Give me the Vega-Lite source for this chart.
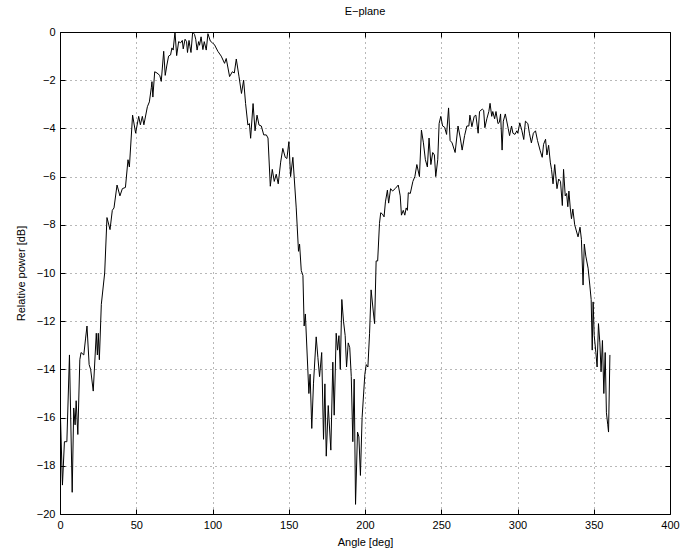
{
  "$schema": "https://vega.github.io/schema/vega-lite/v6.json",
  "width": 610,
  "height": 482,
  "autosize": {"type": "none"},
  "padding": {"left": 60, "top": 32, "right": 14, "bottom": 40},
  "background": "white",
  "title": {"text": "E−plane", "fontSize": 11, "font": "Liberation Sans", "fontWeight": "normal", "color": "#000", "offset": 9, "anchor": "middle"},
  "config": {
    "view": {"stroke": "#000", "strokeWidth": 1},
    "axis": {"labelFont": "Liberation Sans", "titleFont": "Liberation Sans", "labelFontSize": 11, "titleFontSize": 11, "titleFontWeight": "normal", "labelColor": "#000", "titleColor": "#000", "domainColor": "#000", "tickColor": "#000", "gridColor": "#000", "gridDash": [1, 4], "gridOpacity": 0.8, "gridWidth": 0.7}
  },
  "data": {"values": [
    {"angle": 0, "db": -15.3}, {"angle": 1.6, "db": -18.8}, {"angle": 2.9, "db": -17.0}, {"angle": 4.5, "db": -17.0},
    {"angle": 6.2, "db": -13.4}, {"angle": 8.0, "db": -19.1}, {"angle": 9.0, "db": -15.6}, {"angle": 9.9, "db": -16.3},
    {"angle": 10.6, "db": -15.3}, {"angle": 11.7, "db": -16.7}, {"angle": 13.0, "db": -13.6}, {"angle": 13.8, "db": -13.3},
    {"angle": 15.6, "db": -13.4}, {"angle": 16.8, "db": -12.7}, {"angle": 17.7, "db": -12.2}, {"angle": 19.1, "db": -13.8},
    {"angle": 20.1, "db": -14.0}, {"angle": 21.8, "db": -14.9}, {"angle": 23.8, "db": -12.5}, {"angle": 24.5, "db": -13.4},
    {"angle": 25.1, "db": -12.5}, {"angle": 25.8, "db": -13.6}, {"angle": 27.1, "db": -11.3}, {"angle": 29.3, "db": -10.0},
    {"angle": 30.8, "db": -7.7}, {"angle": 32.8, "db": -8.2}, {"angle": 34.3, "db": -7.4}, {"angle": 35.4, "db": -7.3},
    {"angle": 37.4, "db": -6.35}, {"angle": 39.3, "db": -6.8}, {"angle": 40.9, "db": -6.5}, {"angle": 42.9, "db": -6.45},
    {"angle": 44.6, "db": -5.3}, {"angle": 45.5, "db": -5.6}, {"angle": 47.6, "db": -3.45}, {"angle": 49.6, "db": -4.2},
    {"angle": 51.6, "db": -3.5}, {"angle": 52.7, "db": -3.85}, {"angle": 54.0, "db": -3.5}, {"angle": 55.0, "db": -3.85},
    {"angle": 57.3, "db": -3.1}, {"angle": 58.6, "db": -2.9}, {"angle": 59.9, "db": -2.3}, {"angle": 60.3, "db": -2.06},
    {"angle": 60.9, "db": -2.7}, {"angle": 62.1, "db": -1.65}, {"angle": 63.6, "db": -1.7}, {"angle": 65.4, "db": -1.8},
    {"angle": 66.4, "db": -2.05}, {"angle": 68.0, "db": -0.8}, {"angle": 69.0, "db": -1.8}, {"angle": 70.1, "db": -1.37},
    {"angle": 71.2, "db": -1.0}, {"angle": 72.5, "db": -0.95}, {"angle": 73.4, "db": -0.66}, {"angle": 74.2, "db": -0.75},
    {"angle": 75.4, "db": 0}, {"angle": 76.5, "db": -0.98}, {"angle": 77.8, "db": -0.4}, {"angle": 79.1, "db": -0.45},
    {"angle": 80.2, "db": -0.35}, {"angle": 80.8, "db": -0.7}, {"angle": 82.0, "db": -0.3}, {"angle": 83.0, "db": -0.4},
    {"angle": 83.6, "db": -0.85}, {"angle": 84.6, "db": -0.35}, {"angle": 85.2, "db": -0.6}, {"angle": 85.9, "db": -0.85},
    {"angle": 87.0, "db": 0}, {"angle": 88.2, "db": -0.1}, {"angle": 89.0, "db": -0.3}, {"angle": 89.9, "db": -0.75},
    {"angle": 90.9, "db": -0.4}, {"angle": 91.5, "db": -0.55}, {"angle": 92.5, "db": -0.2}, {"angle": 93.7, "db": -0.73},
    {"angle": 94.6, "db": -0.4}, {"angle": 95.9, "db": -0.75}, {"angle": 97.0, "db": -0.07}, {"angle": 98.6, "db": -0.38},
    {"angle": 100.0, "db": -0.45}, {"angle": 101.4, "db": -0.54}, {"angle": 103.5, "db": -0.8}, {"angle": 105.7, "db": -1.0},
    {"angle": 107.9, "db": -1.3}, {"angle": 109.0, "db": -1.1}, {"angle": 111.2, "db": -1.85}, {"angle": 113.0, "db": -1.65},
    {"angle": 114.3, "db": -1.7}, {"angle": 115.6, "db": -1.12}, {"angle": 117.4, "db": -1.86}, {"angle": 119.0, "db": -2.55},
    {"angle": 120.4, "db": -2.0}, {"angle": 121.7, "db": -2.97}, {"angle": 123.2, "db": -3.86}, {"angle": 124.2, "db": -3.8},
    {"angle": 125.0, "db": -4.41}, {"angle": 126.6, "db": -2.97}, {"angle": 127.9, "db": -4.1}, {"angle": 129.2, "db": -3.45},
    {"angle": 130.5, "db": -3.86}, {"angle": 132.0, "db": -3.9}, {"angle": 133.6, "db": -4.27}, {"angle": 135.3, "db": -4.27},
    {"angle": 136.4, "db": -4.4}, {"angle": 137.9, "db": -6.4}, {"angle": 139.2, "db": -5.7}, {"angle": 140.5, "db": -6.2},
    {"angle": 141.8, "db": -5.9}, {"angle": 143.1, "db": -6.3}, {"angle": 144.7, "db": -5.4}, {"angle": 146.1, "db": -4.83},
    {"angle": 147.7, "db": -5.2}, {"angle": 148.8, "db": -5.25}, {"angle": 150.1, "db": -4.55}, {"angle": 151.2, "db": -6.0},
    {"angle": 152.7, "db": -5.2}, {"angle": 154.9, "db": -7.3}, {"angle": 156.4, "db": -9.1}, {"angle": 157.1, "db": -8.8},
    {"angle": 158.2, "db": -9.9}, {"angle": 159.3, "db": -10.1}, {"angle": 160.1, "db": -12.2}, {"angle": 160.9, "db": -11.7},
    {"angle": 163.2, "db": -15.0}, {"angle": 164.0, "db": -14.2}, {"angle": 165.1, "db": -16.45}, {"angle": 166.2, "db": -14.6},
    {"angle": 168.0, "db": -12.65}, {"angle": 169.1, "db": -13.5}, {"angle": 170.2, "db": -14.3}, {"angle": 171.6, "db": -13.3},
    {"angle": 172.8, "db": -16.9}, {"angle": 173.7, "db": -14.6}, {"angle": 174.6, "db": -17.6}, {"angle": 175.9, "db": -15.5},
    {"angle": 177.6, "db": -17.35}, {"angle": 178.9, "db": -13.7}, {"angle": 179.8, "db": -15.9}, {"angle": 181.1, "db": -12.5},
    {"angle": 182.0, "db": -13.2}, {"angle": 182.9, "db": -12.6}, {"angle": 183.8, "db": -14.0}, {"angle": 184.8, "db": -11.1},
    {"angle": 185.9, "db": -12.0}, {"angle": 187.0, "db": -12.6}, {"angle": 187.9, "db": -13.9}, {"angle": 189.0, "db": -12.9},
    {"angle": 190.0, "db": -13.1}, {"angle": 191.0, "db": -14.3}, {"angle": 192.0, "db": -17.0}, {"angle": 192.9, "db": -14.4},
    {"angle": 193.8, "db": -19.6}, {"angle": 195.1, "db": -16.6}, {"angle": 196.0, "db": -16.8}, {"angle": 197.0, "db": -18.4},
    {"angle": 198.1, "db": -16.0}, {"angle": 199.9, "db": -14.2}, {"angle": 200.8, "db": -13.8}, {"angle": 201.9, "db": -13.9},
    {"angle": 203.0, "db": -12.5}, {"angle": 204.0, "db": -10.7}, {"angle": 205.6, "db": -11.7}, {"angle": 206.3, "db": -12.1},
    {"angle": 207.3, "db": -9.5}, {"angle": 208.3, "db": -9.5}, {"angle": 209.5, "db": -7.94}, {"angle": 210.3, "db": -7.5},
    {"angle": 211.4, "db": -7.55}, {"angle": 212.5, "db": -7.67}, {"angle": 213.4, "db": -7.05}, {"angle": 214.7, "db": -6.56},
    {"angle": 215.5, "db": -7.1}, {"angle": 216.8, "db": -6.5}, {"angle": 218.1, "db": -6.6}, {"angle": 219.8, "db": -6.5},
    {"angle": 221.8, "db": -6.35}, {"angle": 223.1, "db": -6.8}, {"angle": 223.9, "db": -7.6}, {"angle": 225.1, "db": -7.4},
    {"angle": 226.1, "db": -7.6}, {"angle": 227.0, "db": -7.3}, {"angle": 227.8, "db": -7.4}, {"angle": 228.4, "db": -6.67},
    {"angle": 229.7, "db": -6.7}, {"angle": 231.4, "db": -6.2}, {"angle": 232.7, "db": -6.0}, {"angle": 234.0, "db": -5.5},
    {"angle": 235.7, "db": -6.0}, {"angle": 237.0, "db": -4.07}, {"angle": 238.3, "db": -4.6}, {"angle": 239.6, "db": -5.3},
    {"angle": 240.9, "db": -5.6}, {"angle": 242.0, "db": -4.4}, {"angle": 243.2, "db": -5.5}, {"angle": 244.4, "db": -5.0},
    {"angle": 245.5, "db": -5.1}, {"angle": 246.4, "db": -6.0}, {"angle": 247.7, "db": -5.3}, {"angle": 248.6, "db": -3.8},
    {"angle": 249.7, "db": -3.5}, {"angle": 250.9, "db": -3.9}, {"angle": 252.2, "db": -3.95}, {"angle": 253.5, "db": -4.25},
    {"angle": 254.8, "db": -3.15}, {"angle": 255.8, "db": -4.5}, {"angle": 257.1, "db": -4.6}, {"angle": 259.1, "db": -5.0},
    {"angle": 261.0, "db": -3.9}, {"angle": 262.5, "db": -4.4}, {"angle": 263.7, "db": -4.9}, {"angle": 265.3, "db": -4.3},
    {"angle": 266.8, "db": -3.9}, {"angle": 268.1, "db": -3.9}, {"angle": 268.8, "db": -3.45}, {"angle": 270.1, "db": -3.93},
    {"angle": 271.6, "db": -3.5}, {"angle": 272.7, "db": -3.45}, {"angle": 274.2, "db": -4.2}, {"angle": 275.1, "db": -3.3},
    {"angle": 276.9, "db": -3.2}, {"angle": 277.8, "db": -3.25}, {"angle": 278.6, "db": -3.97}, {"angle": 279.9, "db": -3.6},
    {"angle": 281.2, "db": -3.3}, {"angle": 282.0, "db": -2.96}, {"angle": 283.1, "db": -3.5}, {"angle": 283.8, "db": -3.3},
    {"angle": 285.0, "db": -3.6}, {"angle": 285.9, "db": -3.3}, {"angle": 287.2, "db": -3.8}, {"angle": 288.1, "db": -3.75},
    {"angle": 288.9, "db": -3.4}, {"angle": 289.9, "db": -4.9}, {"angle": 290.7, "db": -3.7}, {"angle": 292.0, "db": -3.4},
    {"angle": 293.9, "db": -4.0}, {"angle": 294.8, "db": -4.3}, {"angle": 296.1, "db": -3.9}, {"angle": 297.0, "db": -4.2},
    {"angle": 298.3, "db": -4.25}, {"angle": 299.6, "db": -4.1}, {"angle": 300.2, "db": -4.2}, {"angle": 301.5, "db": -3.77},
    {"angle": 302.9, "db": -4.1}, {"angle": 304.1, "db": -4.46}, {"angle": 305.2, "db": -3.7}, {"angle": 306.8, "db": -3.8},
    {"angle": 307.8, "db": -4.2}, {"angle": 309.1, "db": -4.6}, {"angle": 310.4, "db": -4.2}, {"angle": 311.8, "db": -4.1},
    {"angle": 313.1, "db": -4.5}, {"angle": 314.9, "db": -4.93}, {"angle": 316.2, "db": -5.2}, {"angle": 317.1, "db": -4.66},
    {"angle": 318.4, "db": -4.45}, {"angle": 319.3, "db": -5.1}, {"angle": 320.4, "db": -4.7}, {"angle": 321.5, "db": -5.4},
    {"angle": 322.3, "db": -5.7}, {"angle": 323.3, "db": -6.3}, {"angle": 324.4, "db": -5.5}, {"angle": 325.9, "db": -6.5},
    {"angle": 327.0, "db": -6.1}, {"angle": 328.2, "db": -6.2}, {"angle": 329.4, "db": -7.2}, {"angle": 330.2, "db": -5.7},
    {"angle": 331.3, "db": -6.8}, {"angle": 332.2, "db": -6.7}, {"angle": 333.0, "db": -7.25}, {"angle": 333.7, "db": -6.6},
    {"angle": 334.6, "db": -7.3}, {"angle": 335.4, "db": -7.75}, {"angle": 336.3, "db": -7.35}, {"angle": 337.5, "db": -8.0},
    {"angle": 338.8, "db": -8.3}, {"angle": 339.7, "db": -8.5}, {"angle": 341.0, "db": -8.1}, {"angle": 341.9, "db": -8.6},
    {"angle": 343.0, "db": -10.5}, {"angle": 343.8, "db": -8.8}, {"angle": 344.8, "db": -9.3}, {"angle": 346.3, "db": -9.8},
    {"angle": 347.4, "db": -10.5}, {"angle": 348.3, "db": -11.1}, {"angle": 349.0, "db": -13.2}, {"angle": 349.6, "db": -11.2},
    {"angle": 350.3, "db": -12.6}, {"angle": 351.4, "db": -13.3}, {"angle": 352.2, "db": -13.9}, {"angle": 353.1, "db": -12.1},
    {"angle": 354.0, "db": -12.9}, {"angle": 354.8, "db": -14.1}, {"angle": 355.7, "db": -12.8}, {"angle": 356.6, "db": -15.0},
    {"angle": 357.5, "db": -13.3}, {"angle": 358.3, "db": -15.8}, {"angle": 359.2, "db": -16.3}, {"angle": 359.7, "db": -16.6},
    {"angle": 360.6, "db": -13.4}
  ]},
  "layer": [
    {
      "mark": {"type": "line", "color": "#000", "strokeWidth": 1, "clip": true},
      "encoding": {
        "x": {"field": "angle", "type": "quantitative", "scale": {"domain": [0, 400], "nice": false, "zero": false},
              "axis": {"orient": "bottom", "title": "Angle [deg]", "values": [0, 50, 100, 150, 200, 250, 300, 350, 400], "grid": true, "tickSize": -5, "labelPadding": 10, "titlePadding": 6, "domain": false, "labelFlush": false}},
        "y": {"field": "db", "type": "quantitative", "scale": {"domain": [-20, 0], "nice": false, "zero": false},
              "axis": {"orient": "left", "title": "Relative power [dB]", "values": [-20, -18, -16, -14, -12, -10, -8, -6, -4, -2, 0], "grid": true, "tickSize": -5, "labelPadding": 10, "titlePadding": 10, "domain": false, "labelFlush": false}}
      }
    },
    {
      "mark": {"type": "line", "opacity": 0},
      "encoding": {
        "x": {"field": "angle", "type": "quantitative", "scale": {"domain": [0, 400], "nice": false, "zero": false},
              "axis": {"orient": "top", "title": null, "labels": false, "values": [0, 50, 100, 150, 200, 250, 300, 350, 400], "grid": false, "tickSize": -5, "domain": false}},
        "y": {"field": "db", "type": "quantitative", "scale": {"domain": [-20, 0], "nice": false, "zero": false},
              "axis": {"orient": "right", "title": null, "labels": false, "values": [-20, -18, -16, -14, -12, -10, -8, -6, -4, -2, 0], "grid": false, "tickSize": -5, "domain": false}}
      }
    }
  ],
  "resolve": {"axis": {"x": "independent", "y": "independent"}}
}
